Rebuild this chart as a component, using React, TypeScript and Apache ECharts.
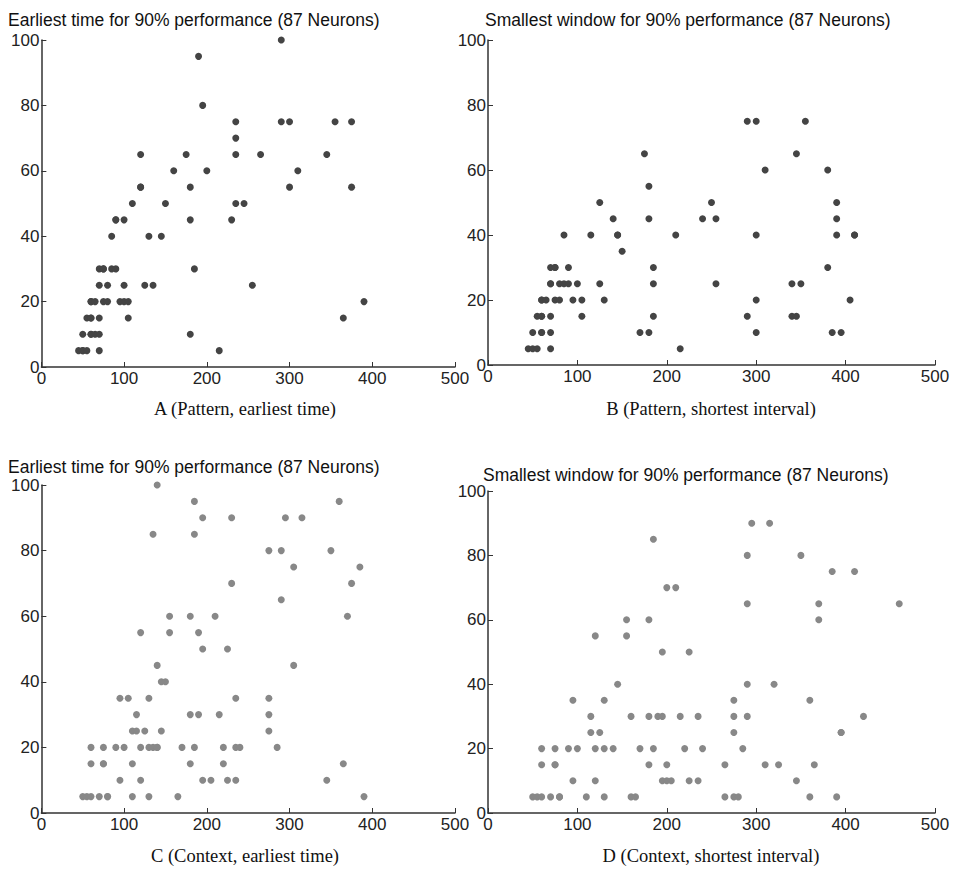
import * as echarts from "echarts";
import { useEffect, useRef } from "react";

// [time (ms), neurons] pairs
const patternEarliest: number[][] = [
  [190, 95], [195, 80], [235, 75], [235, 70], [120, 65], [175, 65], [235, 65], [160, 60], [200, 60],
  [120, 55], [120, 55], [180, 55], [110, 50], [150, 50], [235, 50], [245, 50], [90, 45], [90, 45],
  [100, 45], [180, 45], [230, 45], [85, 40], [130, 40], [145, 40], [70, 30], [75, 30], [75, 30],
  [85, 30], [90, 30], [185, 30], [70, 25], [80, 25], [100, 25], [125, 25], [135, 25], [255, 25],
  [60, 20], [60, 20], [65, 20], [75, 20], [80, 20], [95, 20], [100, 20], [105, 20], [55, 15],
  [60, 15], [60, 15], [70, 15], [105, 15], [50, 10], [60, 10], [60, 10], [65, 10], [70, 10],
  [180, 10], [45, 5], [50, 5], [50, 5], [55, 5], [70, 5], [215, 5], [290, 100], [290, 75],
  [300, 75], [355, 75], [375, 75], [265, 65], [345, 65], [310, 60], [300, 55], [375, 55], [390, 20],
  [365, 15]
];

const patternShortest: number[][] = [
  [175, 65], [180, 55], [125, 50], [140, 45], [180, 45], [85, 40], [115, 40], [145, 40], [145, 40],
  [210, 40], [150, 35], [70, 30], [75, 30], [75, 30], [90, 30], [185, 30], [70, 25], [70, 25],
  [80, 25], [85, 25], [90, 25], [100, 25], [125, 25], [185, 25], [60, 20], [60, 20], [65, 20],
  [75, 20], [80, 20], [95, 20], [105, 20], [130, 20], [55, 15], [60, 15], [60, 15], [70, 15],
  [105, 15], [185, 15], [50, 10], [60, 10], [60, 10], [70, 10], [170, 10], [180, 10], [45, 5],
  [50, 5], [55, 5], [70, 5], [215, 5], [290, 75], [300, 75], [355, 75], [345, 65], [310, 60],
  [380, 60], [250, 50], [390, 50], [240, 45], [255, 45], [390, 45], [300, 40], [390, 40], [410, 40],
  [410, 40], [380, 30], [255, 25], [340, 25], [350, 25], [300, 20], [405, 20], [290, 15], [340, 15],
  [345, 15], [300, 10], [385, 10], [395, 10]
];

const contextEarliest: number[][] = [
  [140, 100], [185, 95], [195, 90], [230, 90], [135, 85], [185, 85], [230, 70], [155, 60], [180, 60],
  [210, 60], [120, 55], [155, 55], [190, 55], [195, 50], [225, 50], [140, 45], [145, 40], [150, 40],
  [95, 35], [105, 35], [130, 35], [235, 35], [115, 30], [180, 30], [190, 30], [215, 30], [110, 25],
  [115, 25], [125, 25], [145, 25], [60, 20], [75, 20], [90, 20], [100, 20], [120, 20], [130, 20],
  [135, 20], [140, 20], [140, 20], [170, 20], [185, 20], [220, 20], [235, 20], [240, 20], [60, 15],
  [75, 15], [75, 15], [110, 15], [180, 15], [220, 15], [95, 10], [120, 10], [195, 10], [205, 10],
  [225, 10], [235, 10], [50, 5], [55, 5], [60, 5], [70, 5], [80, 5], [80, 5], [110, 5], [130, 5],
  [165, 5], [360, 95], [295, 90], [315, 90], [275, 80], [290, 80], [350, 80], [305, 75], [385, 75],
  [375, 70], [290, 65], [370, 60], [305, 45], [275, 35], [275, 30], [275, 25], [285, 20], [365, 15],
  [345, 10], [390, 5]
];

const contextShortest: number[][] = [
  [185, 85], [200, 70], [210, 70], [155, 60], [180, 60], [120, 55], [155, 55], [195, 50], [145, 40],
  [95, 35], [130, 35], [115, 30], [160, 30], [180, 30], [190, 30], [195, 30], [215, 30], [115, 25],
  [125, 25], [60, 20], [75, 20], [90, 20], [100, 20], [120, 20], [130, 20], [140, 20], [170, 20],
  [185, 20], [60, 15], [75, 15], [75, 15], [180, 15], [200, 15], [95, 10], [120, 10], [195, 10],
  [200, 10], [205, 10], [50, 5], [55, 5], [60, 5], [70, 5], [80, 5], [80, 5], [110, 5], [130, 5],
  [160, 5], [165, 5], [295, 90], [315, 90], [290, 80], [350, 80], [385, 75], [410, 75], [290, 65],
  [370, 65], [460, 65], [370, 60], [225, 50], [290, 40], [320, 40], [275, 35], [360, 35], [235, 30],
  [275, 30], [290, 30], [420, 30], [275, 25], [395, 25], [395, 25], [220, 20], [240, 20], [285, 20],
  [265, 15], [310, 15], [325, 15], [365, 15], [225, 10], [235, 10], [345, 10], [265, 5], [275, 5],
  [280, 5], [360, 5], [390, 5]
];

const titles = [
  "Earliest time for 90% performance (87 Neurons)",
  "Smallest window for 90% performance (87 Neurons)",
  "Earliest time for 90% performance (87 Neurons)",
  "Smallest window for 90% performance (87 Neurons)"
];
const captions = [
  "A (Pattern, earliest time)",
  "B (Pattern, shortest interval)",
  "C (Context, earliest time)",
  "D (Context, shortest interval)"
];

const panels = [
  { data: patternEarliest, color: "#444444", grid: { left: 30, top: 32, width: 417, height: 327 }, title: [0, 3], cap: [237, 391] },
  { data: patternShortest, color: "#444444", grid: { left: 480, top: 32, width: 447, height: 325 }, title: [477, 3], cap: [703, 391] },
  { data: contextEarliest, color: "#888888", grid: { left: 30, top: 477, width: 417, height: 328 }, title: [0, 450], cap: [237, 838] },
  { data: contextShortest, color: "#888888", grid: { left: 480, top: 483, width: 447, height: 322 }, title: [475, 458], cap: [703, 838] }
];

const axisText = { color: "#222", fontFamily: "Liberation Sans", fontSize: 17 };
const axisLine = { show: true, lineStyle: { color: "#333", width: 1.5 } };

function buildOption(): echarts.EChartsCoreOption {
  return {
    animation: false,
    grid: panels.map((p) => p.grid),
    xAxis: panels.map((_, i) => ({
      type: "value",
      gridIndex: i,
      min: 0,
      max: 500,
      interval: 100,
      axisLine,
      axisTick: { show: true, inside: true, length: 5, lineStyle: { color: "#333" } },
      axisLabel: { ...axisText, margin: 3 },
      splitLine: { show: false }
    })),
    yAxis: panels.map((_, i) => ({
      type: "value",
      gridIndex: i,
      min: 0,
      max: 100,
      interval: 20,
      axisLine,
      axisTick: { show: true, inside: true, length: 5, lineStyle: { color: "#333" } },
      axisLabel: { ...axisText, margin: 2 },
      splitLine: { show: false }
    })),
    series: panels.map((p, i) => ({
      type: "scatter",
      xAxisIndex: i,
      yAxisIndex: i,
      data: p.data,
      symbolSize: 7,
      itemStyle: { color: p.color, opacity: 1 }
    })),
    graphic: [
      ...panels.map((p, i) => ({
        type: "text",
        left: p.title[0],
        top: p.title[1],
        style: { text: titles[i], fontFamily: "Liberation Sans", fontSize: 17.5, fill: "#111" }
      })),
      ...panels.map((p, i) => ({
        type: "text",
        x: p.cap[0],
        y: p.cap[1],
        style: { text: captions[i], fontFamily: "Liberation Serif", fontSize: 18.5, fill: "#111", align: "center" }
      }))
    ]
  };
}

export default function App() {
  const ref = useRef<HTMLDivElement | null>(null);

  useEffect(() => {
    if (!ref.current) {
      return;
    }
    const chart = echarts.init(ref.current, undefined, { renderer: "svg" });
    chart.setOption(buildOption());
    return () => chart.dispose();
  }, []);

  return <div ref={ref} style={{ width: 957, height: 860 }} />;
}
